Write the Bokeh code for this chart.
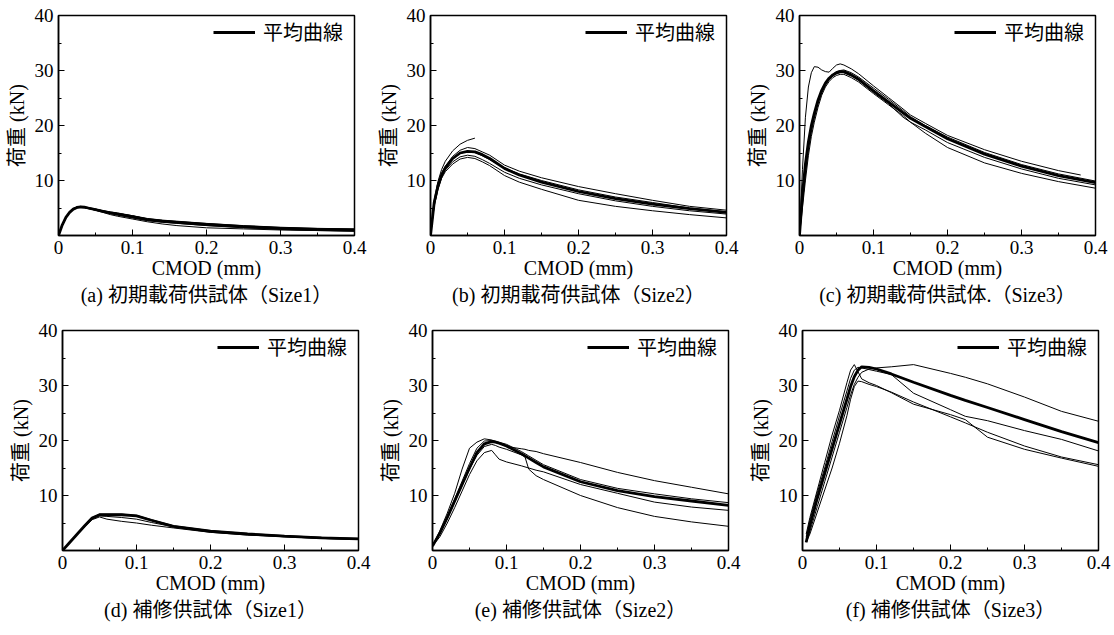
from bokeh.plotting import figure
from bokeh.models import FixedTicker, CustomJSTickFormatter, Title, Range1d
from bokeh.layouts import column, row
from bokeh.embed import file_html
from bokeh.resources import INLINE

# ---------------- data ----------------
X_TICKS = [0, 0.1, 0.2, 0.3, 0.4]
X_MINOR = [0.05, 0.15, 0.25, 0.35]
Y_TICKS = [10, 20, 30, 40]
Y_MINOR = [5, 15, 25, 35]

CAPTIONS = ["(a) 初期載荷供試体（Size1）", "(b) 初期載荷供試体（Size2）", "(c) 初期載荷供試体.（Size3）",
            "(d) 補修供試体（Size1）", "(e) 補修供試体（Size2）", "(f) 補修供試体（Size3）"]
LEGEND_LABEL = "平均曲線"
X_LABEL = "CMOD (mm)"
Y_LABEL = "荷重 (kN)"

# (a)
A_X = [0, 0.005, 0.01, 0.015, 0.02, 0.025, 0.03, 0.035, 0.04, 0.05, 0.06, 0.07, 0.08, 0.1, 0.12, 0.14, 0.16, 0.2, 0.25, 0.3, 0.35, 0.4]
A_AVG = [0, 1.9, 3.3, 4.2, 4.8, 5.1, 5.2, 5.15, 5.0, 4.7, 4.4, 4.1, 3.9, 3.4, 2.9, 2.6, 2.4, 2.0, 1.6, 1.3, 1.1, 1.0]
A_S1 = [0, 1.7, 3.1, 4.1, 4.7, 5.0, 5.1, 5.0, 4.9, 4.6, 4.3, 4.0, 3.7, 3.2, 2.7, 2.4, 2.2, 1.8, 1.4, 1.1, 0.9, 0.8]
A_S2 = [0, 2.0, 3.4, 4.3, 4.9, 5.2, 5.3, 5.2, 5.1, 4.8, 4.5, 4.2, 4.0, 3.6, 3.1, 2.8, 2.6, 2.2, 1.8, 1.5, 1.3, 1.2]
A_S3 = [0, 1.8, 3.2, 4.2, 4.8, 5.1, 5.2, 5.1, 4.9, 4.6, 4.2, 3.8, 3.5, 3.0, 2.5, 2.1, 1.8, 1.4, 1.2, 1.0, 0.9, 0.8]
A_S4 = [0, 1.9, 3.3, 4.3, 4.9, 5.2, 5.2, 5.1, 5.0, 4.8, 4.5, 4.3, 4.1, 3.6, 3.0, 2.7, 2.5, 2.1, 1.7, 1.4, 1.2, 1.1]

# (b)
B_X = [0, 0.005, 0.01, 0.015, 0.02, 0.03, 0.04, 0.05, 0.06, 0.07, 0.08, 0.1, 0.12, 0.15, 0.2, 0.25, 0.3, 0.35, 0.4]
B_AVG = [0, 6.0, 9.0, 11.0, 12.3, 14.0, 15.0, 15.3, 15.2, 14.7, 14.0, 12.2, 11.0, 9.7, 8.0, 6.7, 5.7, 4.9, 4.2]
B_S1 = [0, 6.2, 9.2, 11.3, 12.6, 14.4, 15.5, 16.0, 15.8, 15.2, 14.6, 12.8, 11.7, 10.5, 8.9, 7.6, 6.4, 5.3, 4.6]
B_S2 = [0, 5.8, 8.8, 10.9, 12.2, 13.9, 14.9, 15.3, 15.1, 14.5, 13.8, 12.3, 11.2, 10.0, 8.3, 7.0, 6.0, 5.0, 4.3]
B_S3 = [0, 5.5, 8.5, 10.6, 11.9, 13.4, 14.3, 14.6, 14.4, 13.8, 13.1, 11.5, 10.4, 9.2, 7.6, 6.3, 5.3, 4.5, 3.9]
B_S4 = [0, 5.3, 8.3, 10.4, 11.6, 13.0, 13.9, 14.2, 14.0, 13.4, 12.7, 10.9, 9.7, 8.4, 6.4, 5.3, 4.5, 3.8, 3.2]
B_SHORT_X = [0, 0.005, 0.01, 0.015, 0.02, 0.03, 0.04, 0.05, 0.06]
B_SHORT = [0, 6.4, 9.8, 12.0, 13.5, 15.4, 16.6, 17.3, 17.7]

# (c)
C_X = [0, 0.004, 0.008, 0.012, 0.016, 0.02, 0.025, 0.03, 0.035, 0.04, 0.045, 0.05, 0.055, 0.06, 0.07, 0.08, 0.1, 0.12, 0.14, 0.15, 0.17, 0.2, 0.25, 0.3, 0.35, 0.4]
C_AVG = [0, 7.5, 13.0, 17.0, 20.0, 22.2, 24.6, 26.4, 27.7, 28.6, 29.2, 29.6, 29.8, 29.8, 29.2, 28.4, 26.3, 24.3, 22.3, 21.3, 19.8, 17.6, 14.8, 12.6, 10.9, 9.6]
C_S2 = [0, 6.5, 12.0, 16.2, 19.4, 21.8, 24.3, 26.2, 27.6, 28.6, 29.3, 29.8, 30.0, 30.1, 29.6, 28.8, 26.8, 24.8, 22.7, 21.6, 20.0, 17.9, 15.1, 12.9, 11.2, 9.9]
C_S3 = [0, 5.0, 10.0, 14.5, 18.0, 20.6, 23.3, 25.5, 27.0, 28.0, 28.7, 29.1, 29.3, 29.3, 28.7, 27.9, 25.8, 23.8, 21.8, 20.6, 19.2, 16.9, 14.2, 12.1, 10.4, 9.2]
C_S4 = [0, 6.0, 11.0, 15.5, 18.8, 21.3, 23.9, 25.9, 27.3, 28.3, 29.0, 29.4, 29.6, 29.6, 29.0, 28.2, 26.0, 24.0, 21.5, 20.6, 18.6, 16.0, 13.2, 11.3, 9.8, 8.6]
C_EARLY_X = [0, 0.004, 0.008, 0.012, 0.016, 0.02, 0.025, 0.03, 0.035, 0.04, 0.045, 0.05, 0.055, 0.06, 0.07, 0.08, 0.1, 0.12, 0.14, 0.15, 0.17, 0.2, 0.25, 0.3, 0.35, 0.38]
C_EARLY = [0, 12.0, 21.5, 27.0, 29.6, 30.7, 30.6, 30.1, 29.8, 29.7, 30.4, 31.0, 31.2, 31.0, 30.3, 29.4, 27.2, 25.1, 23.0, 21.9, 20.4, 18.2, 15.6, 13.5, 11.8, 11.0]

# (d)
D_X = [0, 0.01, 0.02, 0.03, 0.04, 0.05, 0.06, 0.08, 0.1, 0.12, 0.15, 0.2, 0.25, 0.3, 0.35, 0.4]
D_AVG = [0, 1.5, 3.0, 4.5, 5.9, 6.5, 6.5, 6.5, 6.3, 5.5, 4.4, 3.5, 3.0, 2.6, 2.3, 2.1]
D_S1 = [0, 1.5, 3.0, 4.4, 5.6, 6.1, 5.7, 5.3, 5.0, 4.6, 4.1, 3.3, 2.8, 2.5, 2.2, 2.0]
D_S2 = [0, 1.6, 3.1, 4.6, 6.0, 6.6, 6.6, 6.6, 6.4, 5.6, 4.5, 3.6, 3.1, 2.7, 2.4, 2.2]
D_S3 = [0, 1.4, 2.9, 4.3, 5.7, 6.3, 6.2, 6.0, 5.7, 5.1, 4.3, 3.4, 2.9, 2.5, 2.2, 2.0]

# (e)
E_X = [0, 0.01, 0.02, 0.03, 0.04, 0.05, 0.06, 0.07, 0.08, 0.085, 0.09, 0.1, 0.12, 0.125, 0.13, 0.14, 0.15, 0.2, 0.25, 0.3, 0.35, 0.4]
E_AVG = [0.8, 3.2, 6.0, 9.0, 12.0, 15.0, 17.8, 19.4, 19.8, 19.7, 19.5, 19.0, 17.6, 17.2, 16.8, 16.0, 15.2, 12.5, 10.9, 9.8, 9.0, 8.2]
E_S1 = [0.8, 3.6, 6.8, 10.4, 14.8, 18.6, 19.7, 20.3, 20.1, 19.8, 19.5, 18.9, 18.5, 18.4, 18.2, 18.0, 17.6, 16.0, 14.2, 12.7, 11.5, 10.3]
E_S2 = [0.8, 3.0, 5.8, 8.8, 11.8, 14.8, 17.3, 18.9, 19.3, 19.1, 18.8, 18.4, 17.4, 17.0, 14.8, 13.6, 12.9, 10.0, 7.8, 6.2, 5.2, 4.4]
E_S3 = [0.8, 2.5, 5.0, 7.8, 10.8, 13.8, 16.3, 17.8, 18.2, 17.4, 16.6, 16.1, 15.4, 15.2, 15.0, 14.6, 14.3, 12.0, 10.4, 8.8, 7.9, 7.3]
E_S4 = [0.8, 3.4, 6.3, 9.4, 12.6, 15.8, 18.6, 19.9, 20.0, 19.9, 19.7, 19.3, 18.0, 17.6, 17.2, 16.4, 15.6, 12.9, 11.3, 10.3, 9.4, 8.7]

# (f)
F_X = [0.005, 0.01, 0.02, 0.03, 0.04, 0.05, 0.06, 0.065, 0.07, 0.075, 0.08, 0.09, 0.1, 0.12, 0.15, 0.2, 0.22, 0.25, 0.3, 0.35, 0.4]
F_AVG = [1.5, 4.5, 9.5, 14.0, 18.5, 23.0, 27.5, 29.8, 31.6, 32.8, 33.4, 33.3, 33.0, 32.1, 30.6, 28.2, 27.3, 26.0, 23.8, 21.6, 19.6]
F_S1 = [1.5, 3.5, 8.0, 12.5, 17.0, 21.5, 26.0, 28.3, 30.2, 31.5, 32.4, 33.0, 33.2, 33.4, 33.8, 32.2, 31.5, 30.3, 27.9, 25.3, 23.5]
F_S2 = [3.0, 6.0, 11.0, 16.0, 21.0, 25.5, 30.5, 32.8, 33.8, 32.5, 31.2, 30.5, 30.0, 28.7, 26.6, 24.7, 23.8, 20.6, 18.4, 16.8, 15.3]
F_S3 = [1.5, 3.0, 7.0, 11.0, 15.0, 19.5, 24.5, 27.5, 29.8, 30.8, 30.7, 30.2, 29.8, 28.8, 27.0, 24.3, 23.2, 21.5, 19.0, 17.0, 15.6]
F_S4 = [2.5, 5.5, 10.5, 15.0, 19.8, 24.5, 29.0, 31.3, 32.8, 33.3, 33.2, 32.9, 32.6, 32.0, 28.6, 25.6, 24.4, 23.6, 21.8, 20.2, 18.1]

# ---------------- styling ----------------
SERIF = "Liberation Serif"
MIX = "Liberation Serif, Noto Sans CJK JP"
CJK = "Noto Sans CJK JP"
FRAME_W = 296
FRAME_H = 220


def make_panel(specimens, avg, caption, bl, br, bt, bb):
    p = figure(frame_width=FRAME_W, frame_height=FRAME_H, output_backend="svg", toolbar_location=None,
               x_range=Range1d(0, 0.4), y_range=Range1d(0, 40),
               min_border_left=bl, min_border_right=br, min_border_top=bt, min_border_bottom=bb,
               background_fill_color="white", border_fill_color="white")
    p.xgrid.visible = False
    p.ygrid.visible = False
    p.outline_line_color = "black"
    p.outline_line_width = 1.5
    for sx, sy in specimens:
        p.line(sx, sy, line_color="black", line_width=1.0)
    ax, ay = avg
    p.line(ax, ay, line_color="black", line_width=2.8, legend_label=LEGEND_LABEL)

    xa = p.xaxis[0]
    xa.ticker = FixedTicker(ticks=X_TICKS, minor_ticks=X_MINOR)
    xa.formatter = CustomJSTickFormatter(code="return tick == 0 ? '0' : tick.toFixed(1);")
    ya = p.yaxis[0]
    ya.ticker = FixedTicker(ticks=Y_TICKS, minor_ticks=Y_MINOR)
    for a in (xa, ya):
        a.axis_line_color = "black"
        a.axis_line_width = 1.5
        a.major_tick_in = 6
        a.major_tick_out = 0
        a.minor_tick_in = 3
        a.minor_tick_out = 0
        a.major_tick_line_color = "black"
        a.minor_tick_line_color = "black"
        a.major_label_text_font = SERIF
        a.major_label_text_font_size = "19px"
        a.major_label_text_color = "black"
        a.major_label_standoff = 5
        a.axis_label_text_font_style = "normal"
        a.axis_label_text_font_size = "20px"
        a.axis_label_text_color = "black"
    xa.axis_label = X_LABEL
    xa.axis_label_text_font = SERIF
    xa.axis_label_standoff = 0
    ya.axis_label = Y_LABEL
    ya.axis_label_text_font = MIX
    ya.axis_label_standoff = 4

    lg = p.legend[0]
    lg.location = (FRAME_W - 141, FRAME_H - 31)
    lg.border_line_color = None
    lg.background_fill_alpha = 0
    lg.glyph_width = 42
    lg.label_standoff = 8
    lg.margin = 0
    lg.padding = 6
    lg.label_text_font = CJK
    lg.label_text_font_size = "20px"
    lg.label_text_color = "black"

    p.add_layout(Title(text=caption, align="center", text_font=MIX, text_font_size="20px",
                       text_font_style="normal", text_color="black", standoff=0), "below")
    return p


pa = make_panel([(A_X, A_S1), (A_X, A_S2), (A_X, A_S3), (A_X, A_S4)], (A_X, A_AVG), CAPTIONS[0], 58, 20, 15, 82)
pb = make_panel([(B_X, B_S1), (B_X, B_S2), (B_X, B_S3), (B_X, B_S4), (B_SHORT_X, B_SHORT)], (B_X, B_AVG), CAPTIONS[1], 53, 17, 15, 82)
pc = make_panel([(C_EARLY_X, C_EARLY), (C_X, C_S2), (C_X, C_S3), (C_X, C_S4)], (C_X, C_AVG), CAPTIONS[2], 53, 22, 15, 82)
pd = make_panel([(D_X, D_S1), (D_X, D_S2), (D_X, D_S3)], (D_X, D_AVG), CAPTIONS[3], 62, 18, 13, 80)
pe = make_panel([(E_X, E_S1), (E_X, E_S2), (E_X, E_S3), (E_X, E_S4)], (E_X, E_AVG), CAPTIONS[4], 52, 18, 13, 80)
pf = make_panel([(F_X, F_S1), (F_X, F_S2), (F_X, F_S3), (F_X, F_S4)], (F_X, F_AVG), CAPTIONS[5], 53, 20, 13, 80)

layout = column(row(pa, pb, pc), row(pd, pe, pf))
open("out.html", "w").write(file_html(layout, INLINE))
